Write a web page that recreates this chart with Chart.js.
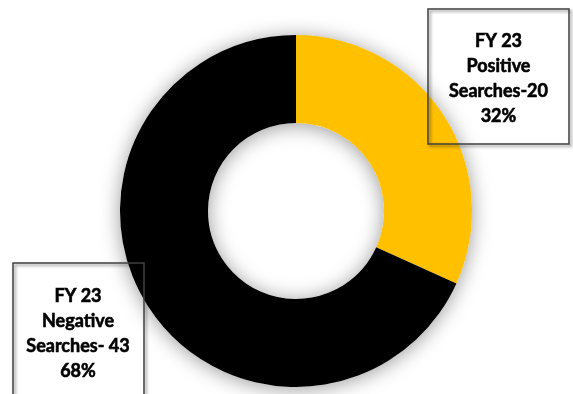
<!DOCTYPE html>
<html>
<head>
<meta charset="utf-8">
<script src="https://cdn.jsdelivr.net/npm/chart.js@4"></script>
<style>
  html, body { margin: 0; padding: 0; background: #fff; }
  #box { width: 573px; height: 394px; }
</style>
</head>
<body>
<div id="box"><canvas id="c"></canvas></div>
<script>
// FY 23 searches, split positive / negative
const categories = ['Positive', 'Negative'];
const counts = [20, 43];
const countSep = ['-', '- '];
const yearTag = 'FY 23';
const sliceColors = ['#FFC000', '#000000'];

const total = counts.reduce((a, b) => a + b, 0);
const pct = v => Math.round(v / total * 100) + '%';

// Callout boxes, one per slice (outline only, no fill)
const callouts = [
  { x: 428, y: 9, w: 141, h: 135, cx: 498.5, base: 47 },
  { x: 13, y: 263, w: 131, h: 140, cx: 78, base: 302 },
];

// Soft glow behind the ring, drawn before the slices
const ringShadow = {
  id: 'ringShadow',
  beforeDatasetsDraw(ch) {
    const a = ch.getDatasetMeta(0).data[0];
    if (!a) return;
    const { ctx } = ch;
    ctx.save();
    ctx.beginPath();
    ctx.arc(a.x, a.y, a.outerRadius, 0, Math.PI * 2);
    ctx.arc(a.x, a.y, a.innerRadius, 0, Math.PI * 2, true);
    ctx.fillStyle = '#fff';
    ctx.shadowColor = 'rgba(0,0,0,.4)';
    ctx.shadowBlur = 20;
    ctx.shadowOffsetY = 2;
    ctx.fill();
    ctx.restore();
  },
};

const calloutLabels = {
  id: 'calloutLabels',
  afterDraw(ch) {
    const { ctx } = ch;
    callouts.forEach((c, i) => {
      ctx.save();
      ctx.strokeStyle = '#404040';
      ctx.lineWidth = 1.5;
      ctx.shadowColor = 'rgba(0,0,0,.45)';
      ctx.shadowBlur = 3;
      ctx.shadowOffsetX = 2;
      ctx.shadowOffsetY = 2;
      ctx.strokeRect(c.x, c.y, c.w, c.h);
      ctx.restore();

      const lines = [yearTag, categories[i], 'Searches' + countSep[i] + counts[i], pct(counts[i])];
      ctx.save();
      ctx.fillStyle = '#000';
      ctx.strokeStyle = '#000';
      ctx.lineWidth = 0.6;
      ctx.font = 'bold 18px Lato';
      ctx.textAlign = 'center';
      ctx.textBaseline = 'alphabetic';
      lines.forEach((t, k) => {
        ctx.fillText(t, c.cx, c.base + k * 25);
        ctx.strokeText(t, c.cx, c.base + k * 25);   // a bit heavier than plain bold
      });
      ctx.restore();
    });
  },
};

new Chart(document.getElementById('c'), {
  type: 'doughnut',
  data: {
    labels: categories,
    datasets: [{
      data: counts,
      backgroundColor: sliceColors,
      borderWidth: 0,
    }],
  },
  options: {
    responsive: true, maintainAspectRatio: false, animation: false,
    cutout: '50%',
    layout: { padding: { left: 120, right: 101, top: 35, bottom: 7 } },
    plugins: { legend: { display: false }, tooltip: { enabled: false } },
  },
  plugins: [ringShadow, calloutLabels],
});
</script>
</body>
</html>
